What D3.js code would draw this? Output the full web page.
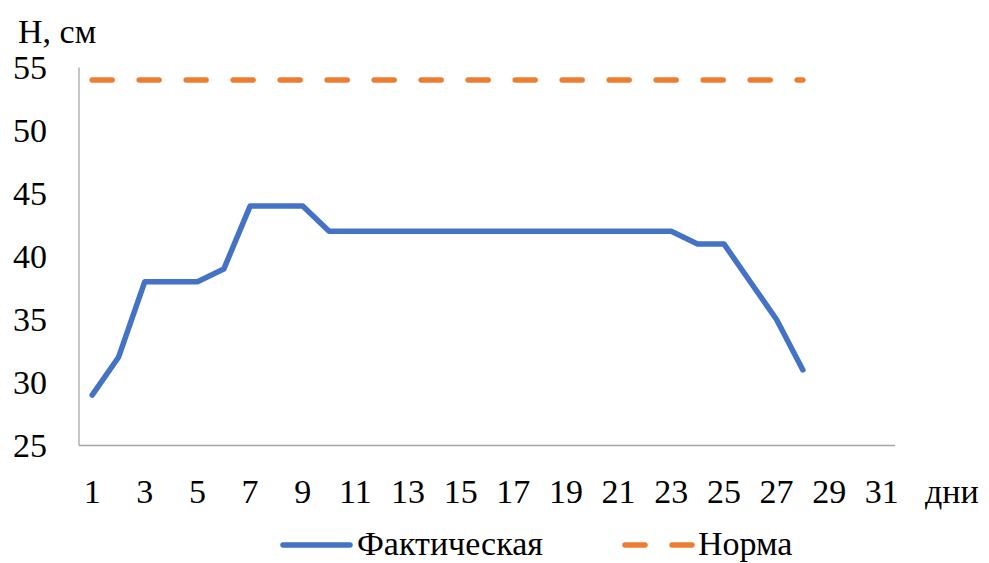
<!DOCTYPE html>
<html><head><meta charset="utf-8">
<script src="https://cdn.jsdelivr.net/npm/d3@7"></script>
<style>body{margin:0;background:#fff}svg{display:block}</style>
</head><body><svg id="c" width="989" height="563"></svg>
<script>
const days = d3.range(1, 32);
const tickLabels = days.filter(d => d % 2 === 1);
const actualDays = d3.range(1, 29);
const actual = [29,32,38,38,38,39,44,44,44,42,42,42,42,42,42,42,42,42,42,42,42,42,42,41,41,38,35,31];
const norma = actualDays.map(() => 54);
const yTicks = [25,30,35,40,45,50,55];

const FONT = "Liberation Serif, DejaVu Serif, Noto Serif, serif";
const svg = d3.select("#c").attr("font-family", FONT);
const L = 79, R = 895, T = 67.5, B = 445.5;
const x = d3.scaleBand().domain(days).range([L, R]);
const xc = d => x(d) + x.bandwidth()/2;
const y = d3.scaleLinear().domain([25,55]).range([B, T]);

svg.append("line").attr("x1",L).attr("x2",L).attr("y1",T).attr("y2",B).attr("stroke","#a6a6a6").attr("stroke-width",1.3);
svg.append("line").attr("x1",L).attr("x2",R).attr("y1",B).attr("y2",B).attr("stroke","#a6a6a6").attr("stroke-width",1.3);

function txt(g){ return g.attr("font-family", FONT).attr("font-size", 34).attr("fill", "#000"); }

svg.append("g").selectAll("text").data(yTicks).join("text")
  .attr("x",47).attr("y",d=>y(d)).attr("dy","0.35em").attr("text-anchor","end")
  .call(txt).text(d=>d);
svg.append("g").selectAll("text").data(tickLabels).join("text")
  .attr("x",d=>xc(d)).attr("y",503).attr("text-anchor","middle")
  .call(txt).text(d=>d);
svg.append("text").attr("x",925).attr("y",503).call(txt).text("дни");
svg.append("text").attr("x",18).attr("y",43).call(txt).text("Н, см");

const line = d3.line().x((d,i)=>xc(actualDays[i])).y(d=>y(d));
svg.append("path").datum(norma).attr("d",line).attr("fill","none")
  .attr("stroke","#ED7D31").attr("stroke-width",5.5).attr("stroke-linecap","round").attr("stroke-dasharray","20,27");
svg.append("path").datum(actual).attr("d",line).attr("fill","none")
  .attr("stroke","#4472C4").attr("stroke-width",5.5).attr("stroke-linejoin","round").attr("stroke-linecap","round");

const lg = svg.append("g");
lg.append("line").attr("x1",283).attr("x2",350).attr("y1",545).attr("y2",545).attr("stroke","#4472C4").attr("stroke-width",5.5).attr("stroke-linecap","round");
lg.append("text").attr("x",357).attr("y",555).call(txt).text("Фактическая");
lg.append("line").attr("x1",625).attr("x2",693).attr("y1",545).attr("y2",545).attr("stroke","#ED7D31").attr("stroke-width",5.5).attr("stroke-linecap","round").attr("stroke-dasharray","20,27");
lg.append("text").attr("x",698).attr("y",555).call(txt).text("Норма");
</script></body></html>
